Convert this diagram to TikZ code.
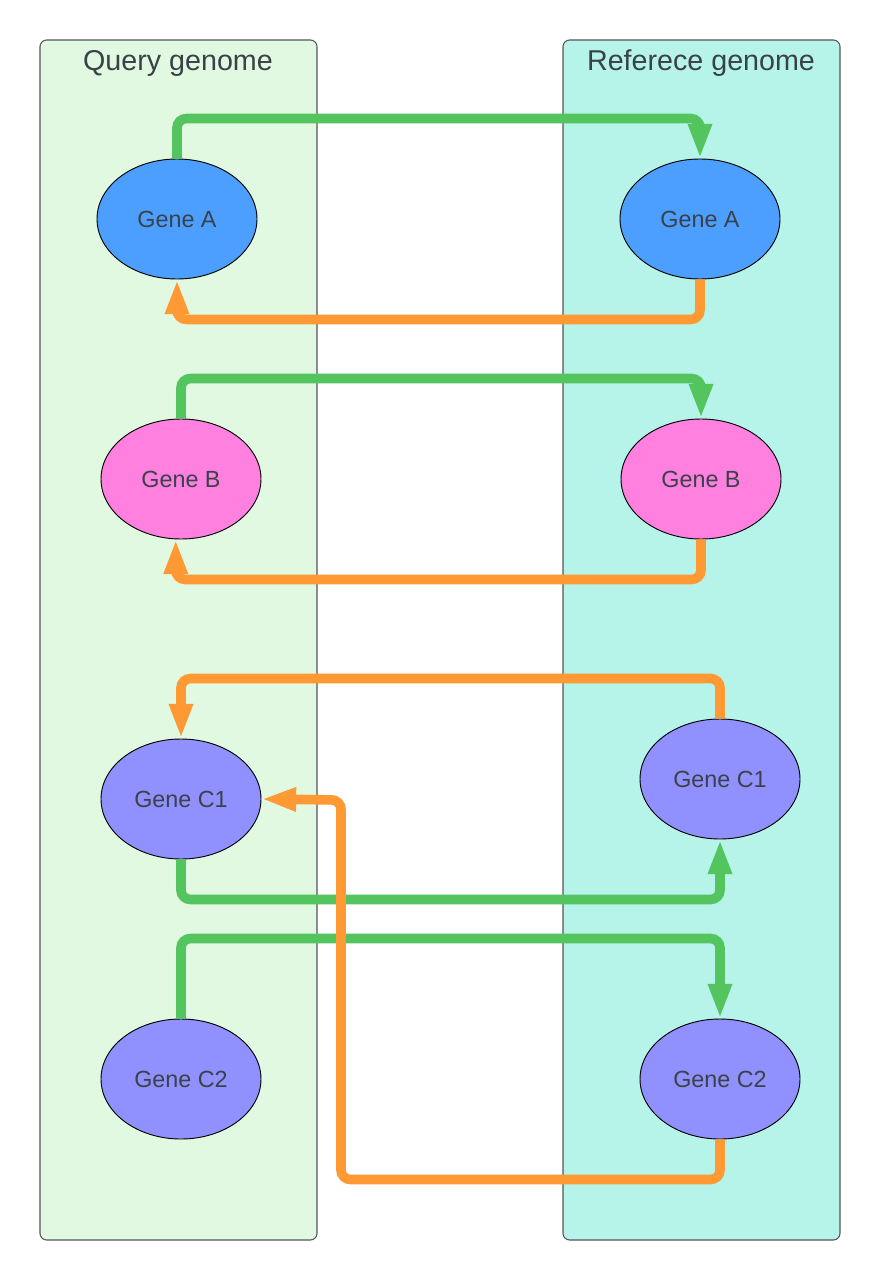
\documentclass[tikz,border=0pt]{standalone}
\usepackage{fontspec}
\setmainfont{Liberation Sans}
\usetikzlibrary{arrows.meta,shapes.geometric}
\definecolor{qbg}{HTML}{E1F9E1}
\definecolor{rbg}{HTML}{B6F4EA}
\definecolor{panelline}{HTML}{555555}
\definecolor{txt}{HTML}{3A4149}
\definecolor{genea}{HTML}{4C9EFF}
\definecolor{geneb}{HTML}{FF80DF}
\definecolor{genec}{HTML}{9090FF}
\definecolor{lgreen}{HTML}{54C45E}
\definecolor{lorange}{HTML}{FF9933}
\tikzset{
  panel/.style={draw=panelline, line width=0.8pt, rounded corners=5pt},
  ptitle/.style={text=txt, font=\fontsize{21.5}{24}\selectfont, anchor=center},
  gene/.style={ellipse, draw=black, line width=0.7pt, minimum width=120pt, minimum height=90pt, inner sep=0pt, text=txt, font=\fontsize{17.5}{20}\selectfont},
  link/.style={line width=7.2pt, rounded corners=7pt, -{Triangle[length=26pt,width=16.5pt]}},
  glink/.style={link, draw=lgreen},
  olink/.style={link, draw=lorange},
}
\begin{document}
\begin{tikzpicture}[x=0.75pt,y=-0.75pt]
\useasboundingbox (0,0) rectangle (880,1280);
\fill[white] (0,0) rectangle (880,1280);
\path[panel, fill=qbg] (40,40) rectangle (317,1240);
\path[panel, fill=rbg] (563,40) rectangle (840,1240);
\node[ptitle] (qt) at (178,63) {Query genome};
\node[ptitle] (rt) at (701,63) {Referece genome};

\node[gene, fill=genea] (qa) at (177,219) {Gene A};
\node[gene, fill=genea] (ra) at (700,219) {Gene A};
\node[gene, fill=geneb] (qb) at (181,479) {Gene B};
\node[gene, fill=geneb] (rb) at (701,479) {Gene B};
\node[gene, fill=genec] (qc1) at (181,799) {Gene C1};
\node[gene, fill=genec] (rc1) at (720,779) {Gene C1};
\node[gene, fill=genec] (qc2) at (181,1079) {Gene C2};
\node[gene, fill=genec] (rc2) at (720,1079) {Gene C2};

\coordinate (t4) at (341,800);

\draw[glink] (qa.north) -- ++(0,-40) -| (ra.north);
\draw[olink] (ra.south) -- ++(0,40) -| (qa.south);
\draw[glink] (qb.north) -- ++(0,-40) -| (rb.north);
\draw[olink] (rb.south) -- ++(0,40) -| (qb.265);
\draw[olink] (rc1.north) -- ++(0,-40) -| (qc1.north);
\draw[glink] (qc1.south) -- ++(0,40) -| (rc1.south);
\draw[glink] (qc2.north) -- ++(0,-80) -| (rc2.north);
\draw[olink] (rc2.south) -- ++(0,40) -| (t4) -- (qc1.east);
\end{tikzpicture}
\end{document}
